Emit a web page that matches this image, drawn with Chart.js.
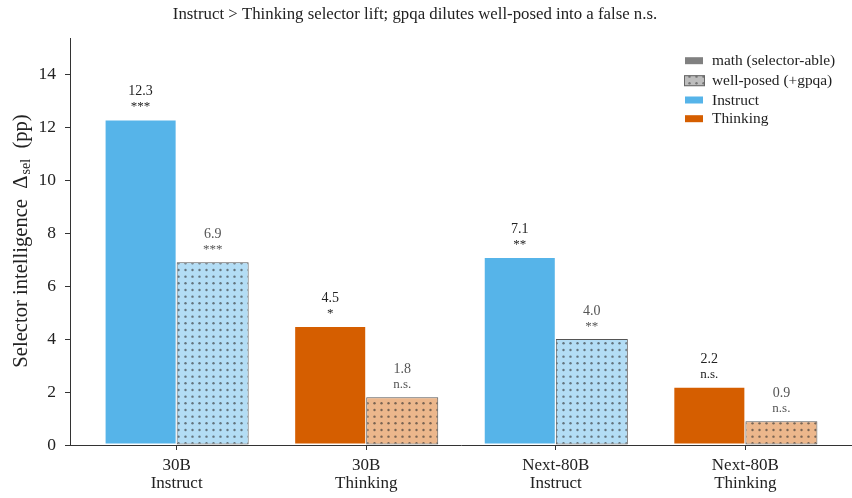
<!DOCTYPE html>
<html>
<head>
<meta charset="utf-8">
<script src="https://cdn.jsdelivr.net/npm/chart.js@4/dist/chart.umd.min.js"></script>
<style>
  html, body { margin: 0; padding: 0; background: #fff; }
  #wrap { width: 852px; height: 498px; }
</style>
</head>
<body>
<div id="wrap"><canvas id="c" width="852" height="498"></canvas></div>
<script>
// Model variants on the x axis (two-line tick labels)
const categories = [['30B', 'Instruct'], ['30B', 'Thinking'], ['Next-80B', 'Instruct'], ['Next-80B', 'Thinking']];
const family = ['Instruct', 'Thinking', 'Instruct', 'Thinking'];

// Selector lift (pp) on the math subset and on the well-posed (+gpqa) pool
const mathDelta = [12.3, 4.5, 7.1, 2.2];
const mathSig = ['***', '*', '**', 'n.s.'];
const wellPosedDelta = [6.9, 1.8, 4.0, 0.9];
const wellPosedSig = ['***', 'n.s.', '**', 'n.s.'];

const yTicks = [0, 2, 4, 6, 8, 10, 12, 14];

const titleText = 'Instruct > Thinking selector lift; gpqa dilutes well-posed into a false n.s.';
const legendItems = ['math (selector-able)', 'well-posed (+gpqa)', 'Instruct', 'Thinking'];

const SERIF = '"Liberation Serif", "Times New Roman", serif';
const familyColor = { Instruct: '#56B4E9', Thinking: '#D55E00' };
const familyLight = { Instruct: '#B3DDF5', Thinking: '#ECB78C' };

// Dotted hatch used for the well-posed bars
function dotPattern(bg, dot) {
  const t = document.createElement('canvas');
  t.width = 21; t.height = 20;
  const g = t.getContext('2d');
  g.fillStyle = bg;
  g.fillRect(0, 0, 21, 20);
  g.fillStyle = dot;
  for (let i = 0; i < 3; i++) {
    for (let j = 0; j < 3; j++) {
      g.beginPath();
      g.arc(3.5 + i * 7, 3.3 + j * 6.67, 1.2, 0, Math.PI * 2);
      g.fill();
    }
  }
  return g.createPattern(t, 'repeat');
}

const ctx = document.getElementById('c').getContext('2d');
const hatchDot = 'rgba(45,45,45,0.6)';
const patterns = {
  Instruct: dotPattern(familyLight.Instruct, hatchDot),
  Thinking: dotPattern(familyLight.Thinking, hatchDot),
  legend: dotPattern('#bdbdbd', 'rgba(70,70,70,0.6)')
};

const xs = categories.map((_, i) => i);

// Value + significance labels above every bar
const barLabels = {
  id: 'barLabels',
  afterDatasetsDraw(chart) {
    const c = chart.ctx;
    const sets = [
      { vals: mathDelta, sig: mathSig, color: '#222' },
      { vals: wellPosedDelta, sig: wellPosedSig, color: '#555' }
    ];
    sets.forEach((s, d) => {
      const meta = chart.getDatasetMeta(d);
      meta.data.forEach((bar, i) => {
        c.save();
        c.fillStyle = s.color;
        c.textAlign = 'center';
        c.textBaseline = 'alphabetic';
        c.font = '14px ' + SERIF;
        c.fillText(s.vals[i].toFixed(1), bar.x, bar.y - 24);
        c.font = '13px ' + SERIF;
        c.fillText(s.sig[i], bar.x, bar.y - 9);
        c.restore();
      });
    });
  }
};

// Title, y-axis title with subscript, and the legend box
const decorations = {
  id: 'decorations',
  afterDraw(chart) {
    const c = chart.ctx;
    const area = chart.chartArea;
    c.save();
    c.fillStyle = '#222';
    c.font = '16.8px ' + SERIF;
    c.textAlign = 'center';
    c.textBaseline = 'alphabetic';
    c.fillText(titleText, 415, 19);
    c.restore();

    // y-axis title
    c.save();
    const cy = (area.top + area.bottom) / 2;
    c.translate(27, cy);
    c.rotate(-Math.PI / 2);
    c.fillStyle = '#222';
    c.textBaseline = 'alphabetic';
    c.textAlign = 'left';
    const big = '20.6px ' + SERIF, small = '14px ' + SERIF;
    const p1 = 'Selector intelligence  \u0394', p2 = 'sel', p3 = '  (pp)';
    c.font = big; const w1 = c.measureText(p1).width, w3 = c.measureText(p3).width;
    c.font = small; const w2 = c.measureText(p2).width;
    let x = -(w1 + w2 + w3) / 2;
    c.font = big; c.fillText(p1, x, 0); x += w1;
    c.font = small; c.fillText(p2, x + 1, 3); x += w2 + 1;
    c.font = big; c.fillText(p3, x, 0);
    c.restore();

    // legend
    c.save();
    const rows = [60.7, 80.7, 100, 118.7];
    const fills = ['#808080', patterns.legend, familyColor.Instruct, familyColor.Thinking];
    rows.forEach((y, k) => {
      if (k === 1) {
        c.fillStyle = fills[k];
        c.fillRect(684, y - 5.5, 21, 11);
        c.strokeStyle = '#666';
        c.lineWidth = 1;
        c.strokeRect(684.5, y - 5, 20, 10);
      } else {
        c.fillStyle = fills[k];
        c.fillRect(685, y - 3.5, 18, 7);
      }
      c.fillStyle = '#222';
      c.font = '15.4px ' + SERIF;
      c.textAlign = 'left';
      c.textBaseline = 'middle';
      c.fillText(legendItems[k], 712, y + 0.5);
    });
    c.restore();
  }
};

new Chart(ctx, {
  type: 'bar',
  data: {
    datasets: [
      {
        label: legendItems[0],
        data: xs.map(i => ({ x: i, y: mathDelta[i] })),
        backgroundColor: family.map(f => familyColor[f]),
        borderColor: 'rgba(255,255,255,0.7)',
        borderWidth: 1,
        borderSkipped: false
      },
      {
        label: legendItems[1],
        data: xs.map(i => ({ x: i, y: wellPosedDelta[i] })),
        backgroundColor: family.map(f => patterns[f]),
        borderColor: '#555',
        borderWidth: 1,
        borderSkipped: false
      }
    ]
  },
  options: {
    responsive: false,
    animation: false,
    devicePixelRatio: 1,
    categoryPercentage: 0.76,
    barPercentage: 1.0,
    layout: { padding: { top: 38, left: 0, right: 0, bottom: 0 } },
    plugins: { legend: { display: false }, tooltip: { enabled: false }, title: { display: false } },
    scales: {
      x: {
        type: 'linear',
        offset: false,
        min: -0.5625,
        max: 3.5625,
        afterBuildTicks: s => { s.ticks = xs.map(v => ({ value: v })); },
        afterFit: s => { s.height = 53; },
        ticks: {
          autoSkip: false,
          maxRotation: 0,
          padding: 6,
          color: '#222',
          font: { family: SERIF, size: 17, lineHeight: 1.08 },
          callback: v => categories[v]
        },
        grid: { display: true, offset: false, drawOnChartArea: false, drawTicks: true, tickLength: 5, color: '#333', lineWidth: 1 },
        border: { display: true, color: '#333', width: 1 }
      },
      y: {
        min: 0,
        max: 15.375,
        afterBuildTicks: s => { s.ticks = yTicks.map(v => ({ value: v })); },
        afterFit: s => { s.width = 70; },
        ticks: {
          padding: 9,
          color: '#222',
          font: { family: SERIF, size: 17.5 }
        },
        grid: { display: true, drawOnChartArea: false, drawTicks: true, tickLength: 5, color: '#333', lineWidth: 1 },
        border: { display: true, color: '#333', width: 1 }
      }
    }
  },
  plugins: [barLabels, decorations]
});
</script>
</body>
</html>
